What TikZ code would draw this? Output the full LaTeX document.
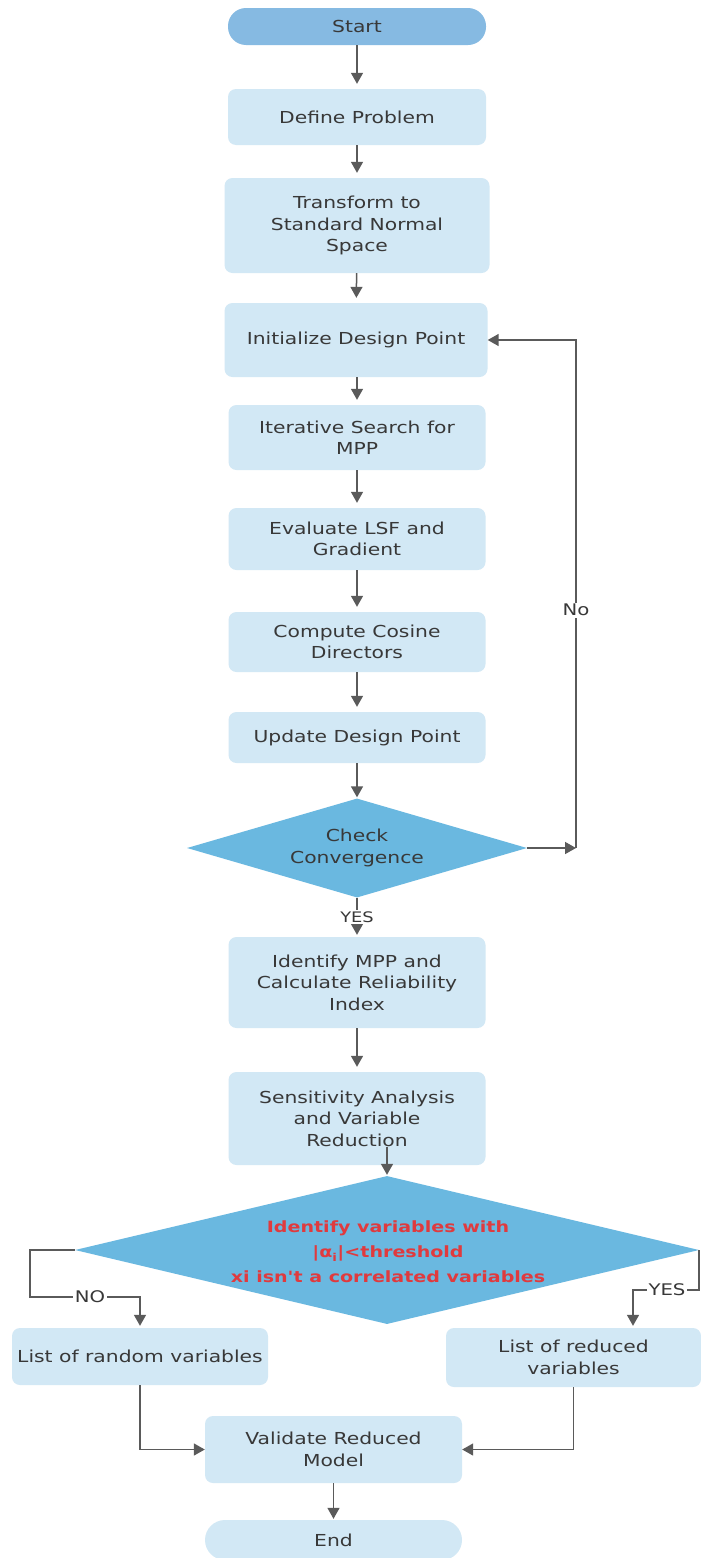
\documentclass[tikz,border=0pt]{standalone}
\usepackage{fontspec}
\setmainfont{DejaVu Sans}[FakeStretch=1.23]
\newfontfamily\redfont{DejaVu Sans}[FakeStretch=1.23, Ligatures=TeXOff]
\usetikzlibrary{shapes.geometric,arrows.meta}
\definecolor{boxfill}{HTML}{D2E8F5}
\definecolor{startfill}{HTML}{86BAE2}
\definecolor{diafill}{HTML}{6AB8E0}
\definecolor{linec}{HTML}{5A5A5A}
\definecolor{txt}{HTML}{383838}
\definecolor{redtxt}{HTML}{E03A3E}
\begin{document}
\begin{tikzpicture}[x=1pt,y=-1pt,
  box/.style={rectangle, rounded corners=8pt, fill=boxfill, text=txt, align=center, inner sep=0pt,
    font=\fontsize{16.5}{21.5}\selectfont},
  term/.style={box, rounded corners=18pt},
  dia/.style={shape=diamond, fill=diafill, text=txt, align=center, inner sep=0pt,
    font=\fontsize{16.5}{21.5}\selectfont},
  arr/.style={draw=linec, line width=1.5pt, -{Triangle[length=11pt,width=12pt]}},
  arrg/.style={arr, shorten >=5pt},
  lab/.style={fill=white, inner sep=1.5pt, text=txt, font=\fontsize{14.5}{14.5}\selectfont},
  blab/.style={lab, font=\fontsize{16}{16}\selectfont},
]
\fill[white] (0,0) rectangle (701,1558);
\useasboundingbox (0,0) rectangle (701,1558);

\node[term, fill=startfill, minimum width=258pt, minimum height=37pt] (start) at (357,26.5) {Start};
\node[box, minimum width=258pt, minimum height=56pt] (define) at (357,117) {Define Problem};
\node[box, minimum width=265pt, minimum height=95pt] (transform) at (357,225.5) {Transform to\\Standard Normal\\Space};
\node[box, minimum width=263pt, minimum height=74pt] (init) at (356,340) {Initialize Design Point};
\node[box, minimum width=257pt, minimum height=65pt] (iter) at (357,437.5) {Iterative Search for\\MPP};
\node[box, minimum width=257pt, minimum height=62pt] (eval) at (357,539) {Evaluate LSF and\\Gradient};
\node[box, minimum width=257pt, minimum height=60pt] (cosine) at (357,642) {Compute Cosine\\Directors};
\node[box, minimum width=257pt, minimum height=51pt] (update) at (357,737.5) {Update Design Point};
\node[dia, aspect=3.43, minimum width=340pt, minimum height=99pt] (check) at (357,848) {Check\\Convergence};
\node[box, minimum width=257pt, minimum height=91pt] (identify) at (357,982.5) {Identify MPP and\\Calculate Reliability\\Index};
\node[box, minimum width=257pt, minimum height=93pt] (sens) at (357,1118.5) {Sensitivity Analysis\\and Variable\\Reduction};
\node[dia, aspect=4.2, minimum width=624pt, minimum height=148pt] (d2) at (387,1250) {};
\node[text=redtxt, align=center, font=\redfont\fontsize{15.5}{25}\selectfont\bfseries] (d2txt) at (388,1252)
  {Identify variables with\\|α\textsubscript{i}|<threshold\\xi isn't a correlated variables};
\node[box, minimum width=256pt, minimum height=57pt] (random) at (140,1356.5) {List of random variables};
\node[box, minimum width=255pt, minimum height=59pt] (reduced) at (573.5,1357.5) {List of reduced\\variables};
\node[box, minimum width=257pt, minimum height=67pt] (validate) at (333.5,1449.5) {Validate Reduced\\Model};
\node[term, rounded corners=20pt, minimum width=257pt, minimum height=40pt] (end) at (333.5,1540) {End};

% main column
\draw[arrg] (start) -- (define);
\draw[arrg] (define) -- (transform);
\draw[arrg] (transform) -- (init);
\draw[arrg] (init.south -| iter.north) -- (iter);
\draw[arrg] (iter) -- (eval);
\draw[arrg] (eval) -- (cosine);
\draw[arrg] (cosine) -- (update);
\draw[arr, shorten >=1pt] (update) -- (check.north);
\draw[arrg, shorten >=2pt] (check.south) -- (identify.north) node[lab, midway] {YES};
\draw[arrg] (identify) -- (sens);
\draw[arr, shorten >=1pt] ([yshift=18pt]sens.south -| d2.north) -- (d2.north);

% No loop
\coordinate (cr) at (576,848);
\draw[arr] (check.east) -- (cr);
\draw[arr] (cr) |- (init.east) node[blab, pos=0.234] {No};

% branches
\coordinate (l1) at (30,1297);
\draw[arr, shorten >=2pt] (d2.west) -| (l1) -| (random.north);
\node[blab] (nolab) at (90,1297) {NO};
\coordinate (r1) at (633,1290);
\draw[arr, shorten >=2pt] (d2.east) |- (r1) -- (reduced.north -| r1);
\node[blab] (yeslab) at (667,1290) {YES};

\draw[arr] (random.south) |- (validate.west);
\draw[arr] (reduced.south) |- (validate.east);
\draw[arr, shorten >=1pt] (validate) -- (end);
\end{tikzpicture}
\end{document}
